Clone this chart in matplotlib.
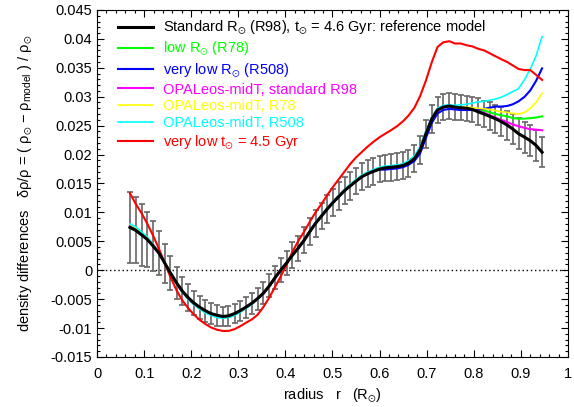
import matplotlib
matplotlib.use("Agg")
import matplotlib.pyplot as plt
from matplotlib.ticker import MultipleLocator

plt.rcParams['font.family'] = ['Liberation Sans', 'DejaVu Sans']
plt.rcParams['mathtext.fontset'] = 'custom'
plt.rcParams['mathtext.rm'] = 'Liberation Sans'
plt.rcParams['mathtext.it'] = 'Liberation Sans:italic'
plt.rcParams['mathtext.fallback'] = 'stixsans'

# radius grid (R_sun)
r = [0.070, 0.082, 0.095, 0.107, 0.119, 0.132, 0.144, 0.156, 0.169, 0.181,
     0.193, 0.206, 0.218, 0.230, 0.242, 0.255, 0.267, 0.279, 0.292, 0.304,
     0.316, 0.329, 0.341, 0.353, 0.366, 0.378, 0.390, 0.403, 0.415, 0.427,
     0.440, 0.452, 0.464, 0.477, 0.489, 0.501, 0.514, 0.526, 0.538, 0.550,
     0.563, 0.575, 0.587, 0.600, 0.612, 0.624, 0.637, 0.649, 0.661, 0.674,
     0.686, 0.698, 0.711, 0.723, 0.735, 0.748, 0.760, 0.772, 0.785, 0.797,
     0.809, 0.822, 0.834, 0.846, 0.858, 0.871, 0.883, 0.895, 0.908, 0.920,
     0.932, 0.945]

# reference model (black) with errors
ref = [0.0074, 0.0069, 0.0061, 0.0053, 0.0042, 0.0029, 0.0012, -0.0005, -0.0022, -0.0036,
       -0.0047, -0.0057, -0.0064, -0.0070, -0.0075, -0.0078, -0.0080, -0.0079, -0.0075, -0.0070,
       -0.0064, -0.0057, -0.0049, -0.0040, -0.0027, -0.0013, 0.0000, 0.0013, 0.0026, 0.0038,
       0.0052, 0.0067, 0.0081, 0.0094, 0.0106, 0.0117, 0.0128, 0.0138, 0.0146, 0.0154,
       0.0162, 0.0167, 0.0171, 0.0175, 0.0177, 0.0178, 0.0179, 0.0181, 0.0185, 0.0193,
       0.0208, 0.0235, 0.0262, 0.0277, 0.0282, 0.0284, 0.0282, 0.0281, 0.0280, 0.0278,
       0.0274, 0.0270, 0.0266, 0.0262, 0.0257, 0.0251, 0.0244, 0.0236, 0.0230, 0.0224,
       0.0216, 0.0204]
err = [0.0062, 0.0057, 0.0053, 0.0048, 0.0043, 0.0038, 0.0034, 0.0030, 0.0027, 0.0025,
       0.0023, 0.0021, 0.0020, 0.0019, 0.0018, 0.0018, 0.0017, 0.0017, 0.0017, 0.0017,
       0.0018, 0.0018, 0.0019, 0.0019, 0.0020, 0.0020, 0.0021, 0.0021, 0.0022, 0.0022,
       0.0022, 0.0023, 0.0023, 0.0023, 0.0024, 0.0024, 0.0024, 0.0024, 0.0024, 0.0023,
       0.0023, 0.0023, 0.0023, 0.0023, 0.0023, 0.0023, 0.0023, 0.0023, 0.0023, 0.0023,
       0.0024, 0.0024, 0.0024, 0.0023, 0.0023, 0.0022, 0.0022, 0.0022, 0.0022, 0.0022,
       0.0023, 0.0023, 0.0024, 0.0024, 0.0025, 0.0025, 0.0026, 0.0027, 0.0027, 0.0027,
       0.0027, 0.0026]

low_r78 = [0.0074, 0.0069, 0.0061, 0.0053, 0.0042, 0.0029, 0.0012, -0.0005, -0.0022, -0.0036,
           -0.0047, -0.0057, -0.0064, -0.0070, -0.0075, -0.0078, -0.0080, -0.0079, -0.0075, -0.0070,
           -0.0064, -0.0057, -0.0049, -0.0040, -0.0027, -0.0013, 0.0000, 0.0013, 0.0026, 0.0038,
           0.0052, 0.0067, 0.0081, 0.0094, 0.0106, 0.0117, 0.0128, 0.0138, 0.0146, 0.0154,
           0.0162, 0.0167, 0.0171, 0.0175, 0.0177, 0.0178, 0.0179, 0.0181, 0.0185, 0.0193,
           0.0208, 0.0235, 0.0262, 0.0277, 0.0282, 0.0284, 0.0282, 0.0281, 0.0280, 0.0279,
           0.0277, 0.0276, 0.0273, 0.0270, 0.0268, 0.0266, 0.0263, 0.0262, 0.0262, 0.0263,
           0.0264, 0.0266]

vlow_r508 = [0.0074, 0.0069, 0.0061, 0.0053, 0.0042, 0.0029, 0.0012, -0.0005, -0.0022, -0.0036,
             -0.0047, -0.0057, -0.0064, -0.0070, -0.0075, -0.0078, -0.0080, -0.0079, -0.0075, -0.0070,
             -0.0064, -0.0057, -0.0049, -0.0040, -0.0027, -0.0013, 0.0000, 0.0013, 0.0026, 0.0038,
             0.0052, 0.0067, 0.0081, 0.0094, 0.0106, 0.0117, 0.0128, 0.0138, 0.0146, 0.0154,
             0.0162, 0.0167, 0.0171, 0.0174, 0.0174, 0.0175, 0.0176, 0.0178, 0.0182, 0.0189,
             0.0202, 0.0228, 0.0255, 0.0271, 0.0277, 0.0279, 0.0278, 0.0277, 0.0277, 0.0277,
             0.0278, 0.0279, 0.0281, 0.0283, 0.0283, 0.0284, 0.0287, 0.0292, 0.0300, 0.0311,
             0.0327, 0.0349]

opal_r98 = [0.0078, 0.0073, 0.0064, 0.0055, 0.0044, 0.0030, 0.0012, -0.0005, -0.0023, -0.0037,
            -0.0049, -0.0059, -0.0066, -0.0072, -0.0077, -0.0080, -0.0082, -0.0081, -0.0077, -0.0072,
            -0.0065, -0.0058, -0.0050, -0.0041, -0.0028, -0.0014, 0.0000, 0.0013, 0.0026, 0.0038,
            0.0052, 0.0067, 0.0082, 0.0095, 0.0107, 0.0118, 0.0129, 0.0139, 0.0147, 0.0155,
            0.0163, 0.0168, 0.0172, 0.0176, 0.0178, 0.0179, 0.0180, 0.0182, 0.0187, 0.0195,
            0.0211, 0.0238, 0.0264, 0.0279, 0.0283, 0.0284, 0.0282, 0.0281, 0.0280, 0.0278,
            0.0275, 0.0272, 0.0268, 0.0264, 0.0260, 0.0256, 0.0252, 0.0249, 0.0246, 0.0244,
            0.0243, 0.0242]

opal_r78 = [0.0079, 0.0074, 0.0065, 0.0056, 0.0044, 0.0030, 0.0012, -0.0005, -0.0023, -0.0037,
            -0.0049, -0.0059, -0.0066, -0.0072, -0.0077, -0.0080, -0.0082, -0.0081, -0.0077, -0.0072,
            -0.0065, -0.0058, -0.0050, -0.0041, -0.0028, -0.0014, 0.0000, 0.0013, 0.0026, 0.0038,
            0.0052, 0.0067, 0.0082, 0.0095, 0.0107, 0.0118, 0.0129, 0.0139, 0.0147, 0.0155,
            0.0163, 0.0168, 0.0172, 0.0176, 0.0178, 0.0179, 0.0180, 0.0182, 0.0187, 0.0195,
            0.0211, 0.0238, 0.0264, 0.0279, 0.0283, 0.0284, 0.0283, 0.0282, 0.0282, 0.0281,
            0.0280, 0.0279, 0.0278, 0.0276, 0.0274, 0.0273, 0.0271, 0.0270, 0.0273, 0.0280,
            0.0290, 0.0306]

opal_r508 = [0.0080, 0.0075, 0.0066, 0.0057, 0.0045, 0.0030, 0.0012, -0.0006, -0.0024, -0.0038,
             -0.0050, -0.0060, -0.0067, -0.0074, -0.0078, -0.0082, -0.0083, -0.0082, -0.0078, -0.0073,
             -0.0066, -0.0059, -0.0050, -0.0041, -0.0028, -0.0014, 0.0000, 0.0013, 0.0026, 0.0039,
             0.0053, 0.0068, 0.0083, 0.0096, 0.0108, 0.0119, 0.0130, 0.0140, 0.0149, 0.0157,
             0.0165, 0.0170, 0.0174, 0.0178, 0.0180, 0.0181, 0.0182, 0.0184, 0.0189, 0.0198,
             0.0214, 0.0240, 0.0265, 0.0280, 0.0285, 0.0286, 0.0285, 0.0286, 0.0287, 0.0289,
             0.0291, 0.0292, 0.0294, 0.0296, 0.0299, 0.0304, 0.0309, 0.0314, 0.0330, 0.0348,
             0.0370, 0.0404]

age45 = [0.0133, 0.0115, 0.0098, 0.0080, 0.0060, 0.0036, 0.0012, -0.0012, -0.0035, -0.0052,
         -0.0065, -0.0077, -0.0086, -0.0093, -0.0099, -0.0103, -0.0105, -0.0105, -0.0102, -0.0097,
         -0.0091, -0.0085, -0.0077, -0.0064, -0.0047, -0.0029, -0.0011, 0.0010, 0.0032, 0.0050,
         0.0067, 0.0084, 0.0100, 0.0115, 0.0130, 0.0144, 0.0158, 0.0171, 0.0184, 0.0195,
         0.0205, 0.0214, 0.0222, 0.0230, 0.0236, 0.0242, 0.0249, 0.0257, 0.0267, 0.0281,
         0.0301, 0.0327, 0.0360, 0.0386, 0.0394, 0.0396, 0.0392, 0.0392, 0.0389, 0.0387,
         0.0383, 0.0380, 0.0375, 0.0370, 0.0365, 0.0360, 0.0354, 0.0348, 0.0346, 0.0346,
         0.0338, 0.0329]

sun = r'$_{\odot}$'
labels = ['Standard R' + sun + ' (R98), t' + sun + ' = 4.6 Gyr: reference model',
          'low R' + sun + ' (R78)',
          'very low R' + sun + ' (R508)',
          'OPALeos-midT, standard R98',
          'OPALeos-midT, R78',
          'OPALeos-midT, R508',
          'very low t' + sun + ' = 4.5 Gyr']

fig = plt.figure(figsize=(5.74, 4.07), dpi=100)
ax = fig.add_axes([0.169, 0.123, 0.8205, 0.8525])

ax.axhline(0, color='black', ls=(0, (1, 2)), lw=1, zorder=1)

eb = ax.errorbar(r, ref, yerr=err, fmt='none', ecolor='#666666', elinewidth=1.2,
                 capsize=2.3, capthick=1.2, zorder=2)
for cap in eb[1]:
    cap.set_color('black')

l_ref, = ax.plot(r, ref, color='black', lw=2.2, zorder=10)
l_g, = ax.plot(r, low_r78, color='#00ff00', lw=1.5, zorder=3)
l_b, = ax.plot(r, vlow_r508, color='#0000ff', lw=1.5, zorder=4)
l_m, = ax.plot(r, opal_r98, color='#ff00ff', lw=1.5, zorder=5)
l_y, = ax.plot(r, opal_r78, color='#ffff00', lw=1.2, zorder=6)
l_c, = ax.plot(r, opal_r508, color='#00ffff', lw=1.2, zorder=7)
l_r, = ax.plot(r, age45, color='#ff0000', lw=1.5, zorder=8)

leg = ax.legend([l_ref, l_g, l_b, l_m, l_y, l_c, l_r], labels, loc='upper left',
                bbox_to_anchor=(0.025, 1.0),
                frameon=False, fontsize=10.5, handlelength=2.45, handletextpad=0.7,
                labelspacing=0.2, borderaxespad=0.2, borderpad=0.4,
                labelcolor='linecolor')

ax.set_xlim(0, 1)
ax.set_ylim(-0.015, 0.045)
ax.xaxis.set_major_locator(MultipleLocator(0.1))
ax.xaxis.set_minor_locator(MultipleLocator(0.02))
ax.yaxis.set_major_locator(MultipleLocator(0.005))
ax.yaxis.set_minor_locator(MultipleLocator(0.001))
ax.set_xticks([0, 0.1, 0.2, 0.3, 0.4, 0.5, 0.6, 0.7, 0.8, 0.9, 1.0])
ax.set_xticklabels(['0', '0.1', '0.2', '0.3', '0.4', '0.5', '0.6', '0.7', '0.8', '0.9', '1'])
yt = [-0.015, -0.01, -0.005, 0, 0.005, 0.01, 0.015, 0.02, 0.025, 0.03, 0.035, 0.04, 0.045]
ax.set_yticks(yt)
ax.set_yticklabels(['-0.015', '-0.01', '-0.005', '0', '0.005', '0.01', '0.015', '0.02',
                    '0.025', '0.03', '0.035', '0.04', '0.045'])
ax.tick_params(which='both', direction='in', top=True, right=True, labelsize=10.5)
ax.tick_params(which='major', length=5, width=0.8)
ax.tick_params(which='minor', length=2.5, width=0.8)
ax.tick_params(axis='x', pad=7)

ax.set_xlabel('radius   r   (R' + sun + ')', fontsize=10.5)
ax.set_ylabel('density differences   δρ/ρ = ( ρ' + sun + ' − ρ$_{\\rm model}$ ) / ρ' + sun,
              fontsize=10.5, labelpad=11)

fig.savefig('out.png', dpi=100)
